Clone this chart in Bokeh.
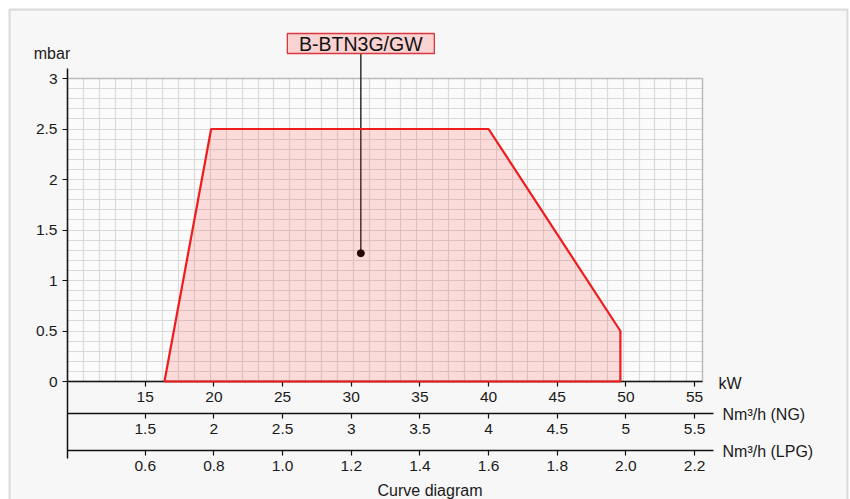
from bokeh.plotting import figure
from bokeh.models import (Range1d, LinearAxis, FixedTicker, Grid, BoxAnnotation,
                          Label, CustomJSTickFormatter)
from bokeh.embed import file_html
from bokeh.resources import INLINE
from bokeh.core.properties import value

# ---------------- data ----------------
KW = [16.4, 19.8, 40.0, 49.6, 49.6]          # working field, kW
MBAR = [0.0, 2.5, 2.5, 0.5, 0.0]             # working field, mbar
POINT_KW = [30.7]
POINT_MBAR = [1.27]
MODEL = ["B-BTN3G/GW"]

KW_TICKS = [15, 20, 25, 30, 35, 40, 45, 50, 55]
KW_LABELS = ["15", "20", "25", "30", "35", "40", "45", "50", "55"]
NG_TICKS = [1.5, 2.0, 2.5, 3.0, 3.5, 4.0, 4.5, 5.0, 5.5]
NG_LABELS = ["1.5", "2", "2.5", "3", "3.5", "4", "4.5", "5", "5.5"]
LPG_TICKS = [0.6, 0.8, 1.0, 1.2, 1.4, 1.6, 1.8, 2.0, 2.2]
LPG_LABELS = ["0.6", "0.8", "1.0", "1.2", "1.4", "1.6", "1.8", "2.0", "2.2"]
MBAR_TICKS = [0, 0.5, 1, 1.5, 2, 2.5, 3]
MBAR_LABELS = ["0", "0.5", "1", "1.5", "2", "2.5", "3"]

# ---------------- layout (the plot frame fills the whole canvas) ----------------
W, H = 850, 499
PX_PER_KW = 13.733
PX_PER_MBAR = 101.0
KW_AT_35_PX = 419.4
ZERO_MBAR_PX = 381.0


def kx(px):   # canvas x pixel -> kW
    return 35 + (px - KW_AT_35_PX) / PX_PER_KW


def my(py):   # canvas y pixel -> mbar
    return (ZERO_MBAR_PX - py) / PX_PER_MBAR


X_START, X_END = kx(0), kx(W)
Y_START, Y_END = my(H), my(0)
GX0, GX1 = kx(67), kx(702)          # chart-paper grid extent
GRID_TOP = 3.0
NG_AXIS_Y, LPG_AXIS_Y = my(413), my(450)
FONT = "Liberation Sans"
TXT = "#1a1a1a"


def fmt(tks, lbs):
    return CustomJSTickFormatter(
        args=dict(tk=tks, lb=lbs),
        code="""
        for (let i = 0; i < tk.length; i++) {
            if (Math.abs(tk[i] - tick) < 1e-6) return lb[i];
        }
        return "";
        """)


p = figure(width=W, height=H,
           x_range=Range1d(X_START, X_END), y_range=Range1d(Y_START, Y_END),
           output_backend="svg", toolbar_location=None,
           x_axis_location=None, y_axis_location="left", min_border=0,
           background_fill_color="#ffffff", border_fill_color="#ffffff",
           outline_line_color=None)
p.extra_x_ranges = {"ng": Range1d(X_START / 10, X_END / 10),
                    "lpg": Range1d(X_START / 25, X_END / 25)}

p.center = [r for r in p.center if not isinstance(r, Grid)]

# outer card
p.add_layout(BoxAnnotation(left=kx(9), right=kx(847), top=my(9), bottom=my(H + 20),
                           fill_color="#f7f7f7", fill_alpha=1.0,
                           line_color="#8c8c8c", line_width=2, level="image"))
# chart paper background
p.add_layout(BoxAnnotation(left=GX0, right=GX1, bottom=0, top=GRID_TOP,
                           fill_color="#fbfbfb", fill_alpha=1.0, line_alpha=0,
                           level="image"))

# fine chart-paper grid
ncols, nrows = 40, 30
gx = [GX0 + i * (GX1 - GX0) / ncols for i in range(1, ncols)]
gy = [i * GRID_TOP / nrows for i in range(1, nrows)]
p.add_layout(Grid(dimension=0, ticker=FixedTicker(ticks=gx), cross_bounds=(0, GRID_TOP),
                  grid_line_color="#dadada", grid_line_width=1.2))
p.add_layout(Grid(dimension=1, ticker=FixedTicker(ticks=gy), cross_bounds=(GX0, GX1),
                  grid_line_color="#dadada", grid_line_width=1.2))

# grid frame
p.add_layout(BoxAnnotation(left=GX0, right=GX1, bottom=0, top=GRID_TOP, fill_alpha=0,
                           line_color="#333333", line_width=1.5))


def style_axis(ax):
    ax.axis_line_color = "#111111"
    ax.axis_line_width = 1.5
    ax.major_tick_in = 0
    ax.major_tick_out = 5
    ax.major_tick_line_color = "#111111"
    ax.major_tick_line_width = 1.2
    ax.minor_tick_line_color = None
    ax.major_label_text_font = FONT
    ax.major_label_text_font_size = "15.5px"
    ax.major_label_text_color = TXT
    ax.major_label_standoff = 5


# y axis
ya = p.yaxis[0]
ya.fixed_location = GX0
ya.bounds = (my(458), my(68))
ya.ticker = FixedTicker(ticks=MBAR_TICKS)
ya.formatter = fmt(MBAR_TICKS, MBAR_LABELS)
style_axis(ya)

ax_kw = LinearAxis(fixed_location=0, bounds=(GX0, GX1),
                   ticker=FixedTicker(ticks=KW_TICKS), formatter=fmt(KW_TICKS, KW_LABELS))
ax_ng = LinearAxis(x_range_name="ng", fixed_location=NG_AXIS_Y,
                   bounds=(GX0 / 10, kx(713) / 10),
                   ticker=FixedTicker(ticks=NG_TICKS), formatter=fmt(NG_TICKS, NG_LABELS))
ax_lpg = LinearAxis(x_range_name="lpg", fixed_location=LPG_AXIS_Y,
                    bounds=(GX0 / 25, kx(713) / 25),
                    ticker=FixedTicker(ticks=LPG_TICKS), formatter=fmt(LPG_TICKS, LPG_LABELS))
for ax in (ax_kw, ax_ng, ax_lpg):
    style_axis(ax)
    p.add_layout(ax, "below")

# working field
field = p.patch(KW, MBAR, fill_color="#ff2020", fill_alpha=0.15,
                line_color="#ee1c1c", line_width=2.2)
field.level = "overlay"

# leader + point + model box
LABEL_Y = my(43)
p.segment(x0=POINT_KW, y0=POINT_MBAR, x1=POINT_KW, y1=[LABEL_Y],
          line_color="#111111", line_width=1.3)
p.scatter(POINT_KW, POINT_MBAR, size=7, color="#000000")
p.rect(x=POINT_KW, y=[LABEL_Y], width=147, height=20, width_units="screen",
       height_units="screen", fill_color="#f9d2d2", line_color="#d9363e", line_width=1.3)
p.text(x=POINT_KW, y=[LABEL_Y], text=MODEL, text_align="center", text_baseline="middle",
       text_font=value(FONT), text_font_size="19.5px", text_color="#111111")


# axis titles
def lab(px, py, text, align="left"):
    p.add_layout(Label(x=kx(px), y=my(py), text=text, text_align=align,
                       text_baseline="middle", text_font=FONT, text_font_size="16px",
                       text_color=TXT))


lab(51.5, 53, "mbar", align="center")
lab(718, 383, "kW")
lab(722, 414, "Nm³/h (NG)")
lab(722, 451, "Nm³/h (LPG)")
lab(429.5, 490, "Curve diagram", align="center")

open("out.html", "w").write(file_html(p, INLINE))
